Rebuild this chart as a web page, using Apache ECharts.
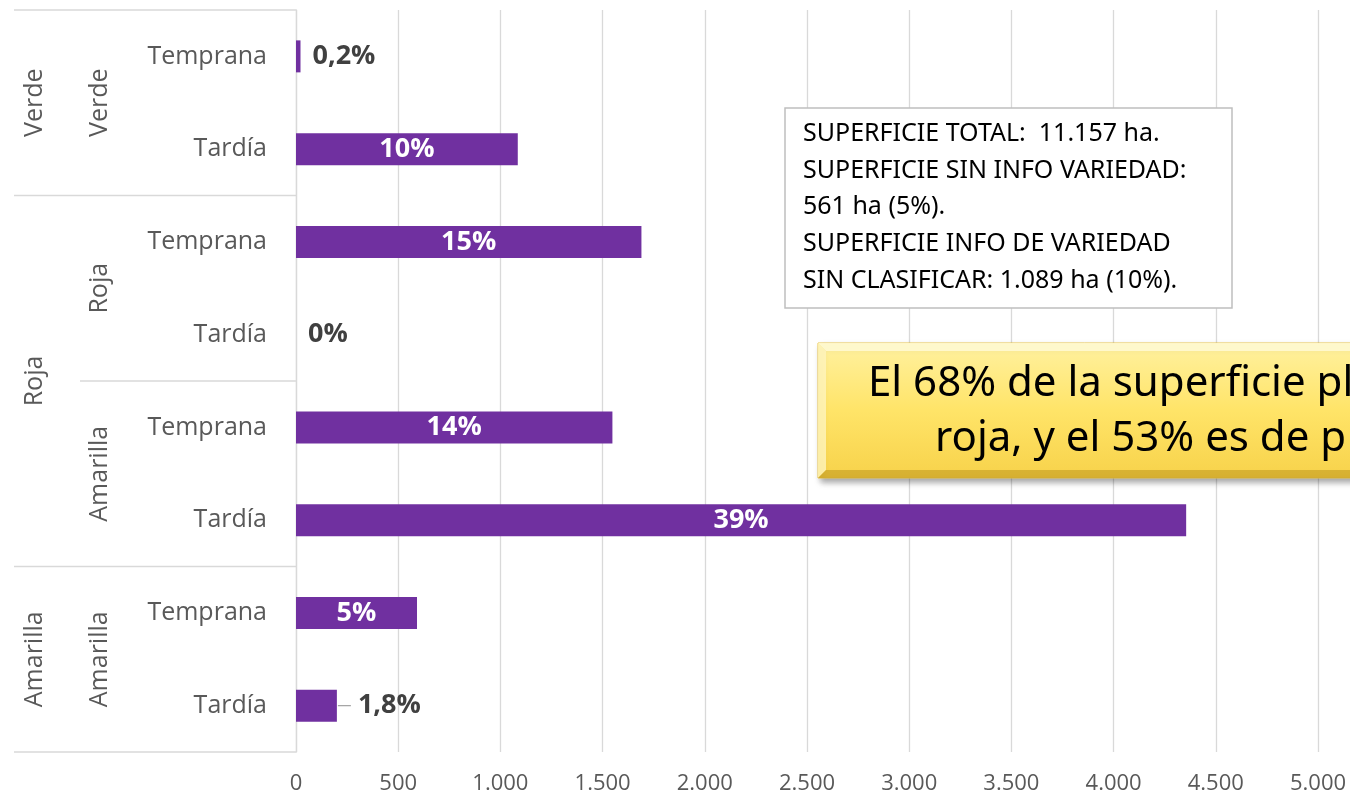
<!DOCTYPE html>
<html>
<head>
<meta charset="utf-8">
<script src="https://cdn.jsdelivr.net/npm/echarts@6/dist/echarts.min.js"></script>
<style>
html,body{margin:0;padding:0;background:#fff;}
#chart{width:1350px;height:795px;}
</style>
</head>
<body>
<div id="chart"></div>
<script>
// ---- data ----
const categories = ['Temprana', 'Tardía', 'Temprana', 'Tardía', 'Temprana', 'Tardía', 'Temprana', 'Tardía'];
const innerGroups = ['Verde', 'Verde', 'Roja', 'Roja', 'Amarilla', 'Amarilla', 'Amarilla', 'Amarilla'];
const outerGroups = ['Verde', 'Verde', 'Roja', 'Roja', 'Roja', 'Roja', 'Amarilla', 'Amarilla'];
const values = [22, 1085, 1690, 0, 1548, 4355, 592, 200];
const pctLabels = ['0,2%', '10%', '15%', '0%', '14%', '39%', '5%', '1,8%'];
const labelInside = [false, true, true, false, true, true, true, false];
const infoLines = [
  'SUPERFICIE TOTAL:  11.157 ha.',
  'SUPERFICIE SIN INFO VARIEDAD:',
  '561 ha (5%).',
  'SUPERFICIE INFO DE VARIEDAD',
  'SIN CLASIFICAR: 1.089 ha (10%).'
];
const calloutLines = ['El 68% de la superficie pl', 'roja, y el 53% es de p'];
const xMin = 0, xMax = 5000, xStep = 500;

const FONT = '"Open Sans", "Noto Sans", sans-serif';
const chart = echarts.init(document.getElementById('chart'));

const seriesData = values.map((v, i) => ({
  value: v,
  label: labelInside[i]
    ? { show: true, position: 'inside', color: '#ffffff', formatter: pctLabels[i] }
    : { show: true, position: 'right', distance: (i === 7 ? 21 : 12), color: '#404040', formatter: pctLabels[i] }
}));

chart.setOption({
  animation: false,
  grid: { left: 296, right: 32, top: 10, bottom: 38, containLabel: false },
  xAxis: {
    type: 'value', min: xMin, max: xMax, interval: xStep,
    axisLine: { show: false }, axisTick: { show: false },
    splitLine: { show: true, lineStyle: { color: '#d9d9d9', width: 1.3 } },
    axisLabel: {
      margin: 21, color: '#595959', fontSize: 22, fontFamily: FONT,
      formatter: v => String(v).replace(/\B(?=(\d{3})+(?!\d))/g, '.')
    }
  },
  yAxis: {
    type: 'category', inverse: true, data: categories,
    axisLine: { show: true, lineStyle: { color: '#d9d9d9', width: 1.3 } },
    axisTick: { show: false },
    axisLabel: { margin: 29, color: '#595959', fontSize: 25, fontFamily: FONT }
  },
  series: [{
    type: 'bar', data: seriesData, barWidth: 32,
    itemStyle: { color: '#7030a0' },
    label: { fontSize: 27, fontWeight: 'bold', fontFamily: FONT }
  }]
});

// ---- overlays computed from the axes ----
const c0 = chart.convertToPixel({ yAxisIndex: 0 }, 0);
const c1 = chart.convertToPixel({ yAxisIndex: 0 }, 1);
const band = c1 - c0;
const yTop = c0 - band / 2;
const axisX = chart.convertToPixel({ xAxisIndex: 0 }, 0);
const boundary = k => yTop + k * band;

const g = [];
function hline(y, x1) {
  g.push({ type: 'line', shape: { x1: x1, y1: y, x2: axisX, y2: y }, style: { stroke: '#d9d9d9', lineWidth: 1.3 }, silent: true });
}
function groupRuns(arr) {
  const runs = []; let s = 0;
  for (let i = 1; i <= arr.length; i++) {
    if (i === arr.length || arr[i] !== arr[s] || (arr === innerGroups && outerGroups[i] !== outerGroups[s])) {
      runs.push({ name: arr[s], start: s, end: i }); s = i;
    }
  }
  return runs;
}
const outerRuns = groupRuns(outerGroups);
const innerRuns = groupRuns(innerGroups);
hline(boundary(0), 14);
outerRuns.forEach(r => hline(boundary(r.end), 14));
innerRuns.forEach(r => {
  if (!outerRuns.some(o => o.end === r.end)) hline(boundary(r.end), 80);
});
function vtext(name, x, y) {
  g.push({
    type: 'text', x: x, y: y, rotation: Math.PI / 2, silent: true,
    style: { text: name, fill: '#595959', font: '25px ' + FONT, align: 'center', verticalAlign: 'middle' }
  });
}
outerRuns.forEach(r => vtext(r.name, 35, (boundary(r.start) + boundary(r.end)) / 2));
innerRuns.forEach(r => vtext(r.name, 100, (boundary(r.start) + boundary(r.end)) / 2));

// leader line for small label
const lx = chart.convertToPixel({ xAxisIndex: 0 }, values[7]);
const ly = chart.convertToPixel({ yAxisIndex: 0 }, 7);
g.push({ type: 'line', shape: { x1: lx + 1, y1: ly, x2: lx + 14, y2: ly }, style: { stroke: '#a6a6a6', lineWidth: 1.3 }, silent: true });

// info box
g.push({ type: 'rect', shape: { x: 785, y: 108, width: 447, height: 200 }, style: { fill: '#ffffff', stroke: '#bfbfbf', lineWidth: 1.5 }, z: 10 });
infoLines.forEach((t, i) => {
  g.push({ type: 'text', x: 803, y: 134 + i * 36.6, z: 11,
    style: { text: t, fill: '#000000', font: '25px "Noto Sans", sans-serif', align: 'left', verticalAlign: 'middle' } });
});

// yellow callout
g.push({ type: 'rect', shape: { x: 818, y: 343, width: 560, height: 135 }, z: 10,
  style: {
    fill: new echarts.graphic.LinearGradient(0, 0, 0, 1, [
      { offset: 0, color: '#fff1a0' }, { offset: 0.5, color: '#ffe468' }, { offset: 1, color: '#f7d24a' }
    ]),
    stroke: '#e8c44a', lineWidth: 1,
    shadowBlur: 6, shadowOffsetX: 3, shadowOffsetY: 4, shadowColor: 'rgba(0,0,0,0.35)'
  } });
// bevel edges
g.push({ type: 'polygon', z: 11, shape: { points: [[818, 343], [1378, 343], [1370, 351], [826, 351]] }, style: { fill: 'rgba(255,250,210,0.9)' } });
g.push({ type: 'polygon', z: 11, shape: { points: [[818, 343], [826, 351], [826, 470], [818, 478]] }, style: { fill: 'rgba(255,245,190,0.8)' } });
g.push({ type: 'polygon', z: 11, shape: { points: [[818, 478], [826, 470], [1370, 470], [1378, 478]] }, style: { fill: 'rgba(190,150,30,0.55)' } });
g.push({ type: 'text', x: 868, y: 384, z: 12, style: { text: calloutLines[0], fill: '#000000', font: '42px "Noto Sans", sans-serif', align: 'left', verticalAlign: 'middle' } });
g.push({ type: 'text', x: 935, y: 439, z: 12, style: { text: calloutLines[1], fill: '#000000', font: '42px "Noto Sans", sans-serif', align: 'left', verticalAlign: 'middle' } });

chart.setOption({ graphic: { elements: g } });
</script>
</body>
</html>
